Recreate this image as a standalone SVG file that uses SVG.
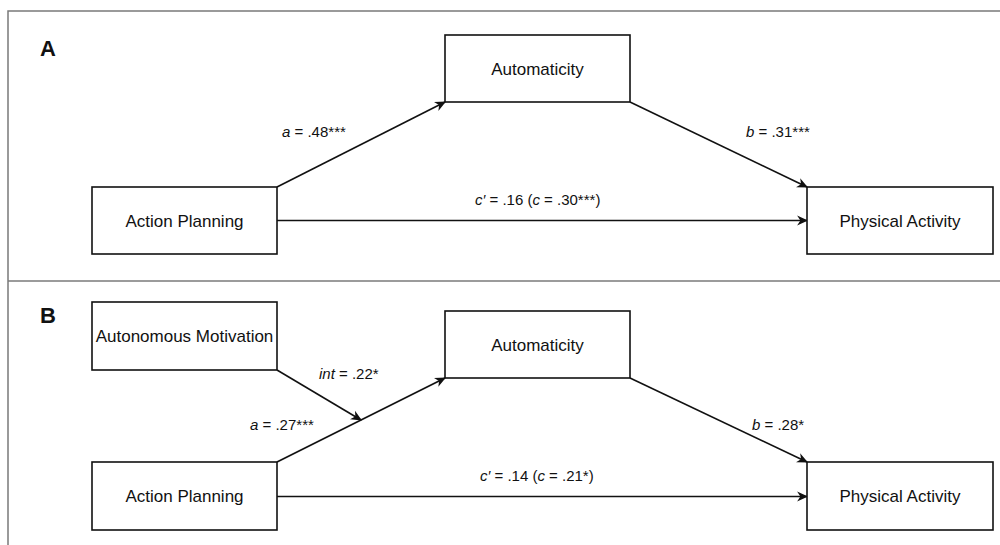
<svg xmlns="http://www.w3.org/2000/svg" width="1000" height="545" viewBox="0 0 1000 545">
<style>
.frame{fill:none;stroke:#7a7a7a;stroke-width:1.5}
.box{fill:#fff;stroke:#111;stroke-width:1.6}
.lbl{font-family:"Liberation Sans",Arial,sans-serif;font-size:17px;fill:#111;text-anchor:middle}
.el{font-family:"Liberation Sans",Arial,sans-serif;font-size:15px;fill:#111}
.pan{font-family:"Liberation Sans",Arial,sans-serif;font-size:22px;font-weight:bold;fill:#111}
.edge{fill:none;stroke:#111;stroke-width:1.6;marker-end:url(#ah)}
</style>
<defs>
<marker id="ah" viewBox="0 0 10 10" refX="9" refY="5" markerWidth="11" markerHeight="11" markerUnits="userSpaceOnUse" orient="auto">
<path d="M0,0.5 L10,5 L0,9.5 L3,5 Z" fill="#111"/>
</marker>
</defs>
<rect width="1000" height="545" fill="#fff"/>
<g id="frame">
<path class="frame" d="M8,545 V11 H1000"/>
<path class="frame" d="M8,281 H1000"/>
</g>
<text class="pan" x="40" y="56">A</text>
<text class="pan" x="40" y="323">B</text>
<g id="connectors">
<line class="edge" x1="277" y1="187" x2="445" y2="102"/>
<line class="edge" x1="630" y1="102" x2="807" y2="187"/>
<line class="edge" x1="277" y1="220.5" x2="807" y2="220.5"/>
<line class="edge" x1="277" y1="462" x2="445" y2="378"/>
<line class="edge" x1="277" y1="370" x2="361" y2="420"/>
<line class="edge" x1="630" y1="378" x2="807" y2="462"/>
<line class="edge" x1="277" y1="496.5" x2="807" y2="496.5"/>
</g>
<g id="edge-labels">
<text class="el" x="282" y="137"><tspan font-style="italic">a</tspan> = .48***</text>
<text class="el" x="746" y="137"><tspan font-style="italic">b</tspan> = .31***</text>
<text class="el" x="475" y="205"><tspan font-style="italic">c′</tspan> = .16 (<tspan font-style="italic">c</tspan> = .30***)</text>
<text class="el" x="319" y="379"><tspan font-style="italic">int</tspan> = .22*</text>
<text class="el" x="250" y="430"><tspan font-style="italic">a</tspan> = .27***</text>
<text class="el" x="752" y="430"><tspan font-style="italic">b</tspan> = .28*</text>
<text class="el" x="480" y="481"><tspan font-style="italic">c′</tspan> = .14 (<tspan font-style="italic">c</tspan> = .21*)</text>
</g>
<g id="A-automaticity"><rect class="box" x="445" y="35" width="185" height="67"/><text class="lbl" x="537.5" y="75">Automaticity</text></g>
<g id="A-action-planning"><rect class="box" x="92" y="187" width="185" height="67"/><text class="lbl" x="184.5" y="227">Action Planning</text></g>
<g id="A-physical-activity"><rect class="box" x="807" y="187" width="186" height="67"/><text class="lbl" x="900" y="227">Physical Activity</text></g>
<g id="B-autonomous-motivation"><rect class="box" x="92" y="302" width="185" height="68"/><text class="lbl" x="184.5" y="342">Autonomous Motivation</text></g>
<g id="B-automaticity"><rect class="box" x="445" y="311" width="185" height="67"/><text class="lbl" x="537.5" y="351">Automaticity</text></g>
<g id="B-action-planning"><rect class="box" x="92" y="462" width="185" height="68"/><text class="lbl" x="184.5" y="502">Action Planning</text></g>
<g id="B-physical-activity"><rect class="box" x="807" y="462" width="186" height="68"/><text class="lbl" x="900" y="502">Physical Activity</text></g>
</svg>
